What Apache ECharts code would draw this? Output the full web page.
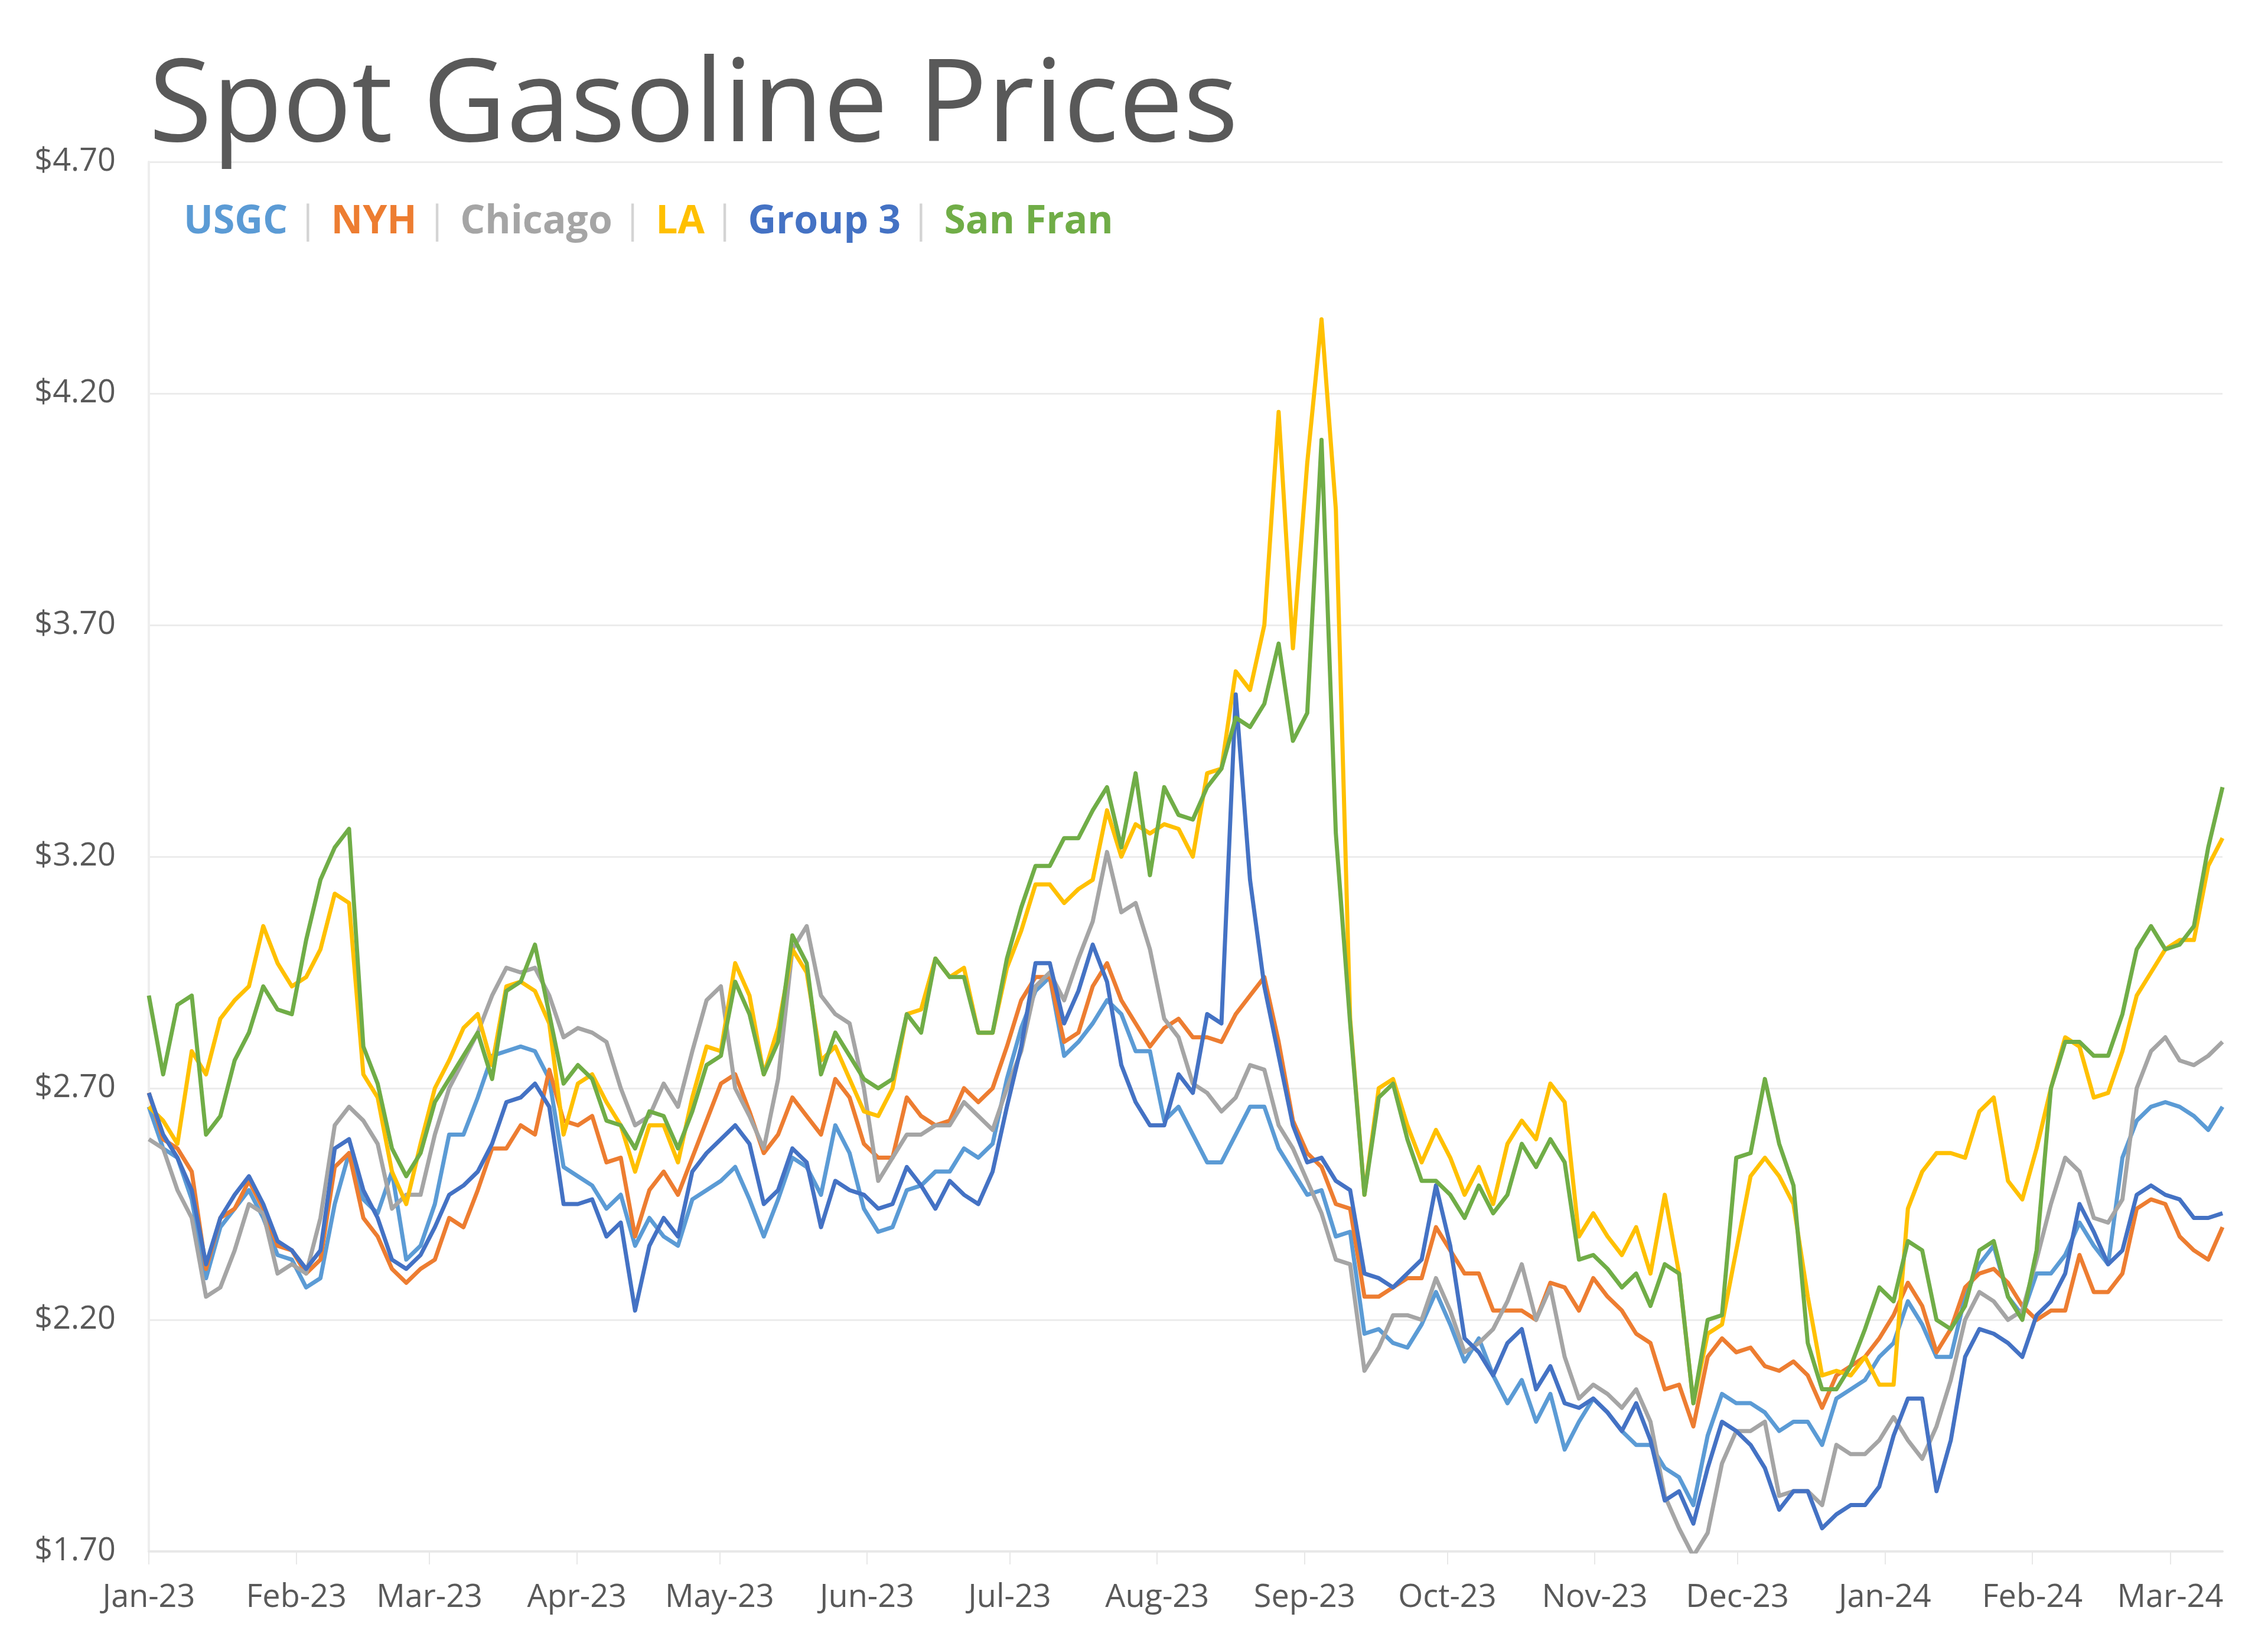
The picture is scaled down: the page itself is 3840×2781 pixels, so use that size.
<!DOCTYPE html>
<html>
<head>
<meta charset="utf-8">
<script src="https://cdn.jsdelivr.net/npm/echarts@6/dist/echarts.min.js"></script>
<style>
  html, body { margin: 0; padding: 0; background: #ffffff; }
  #chart { width: 3840px; height: 2781px; }
</style>
</head>
<body>
<div id="chart"></div>
<script>
const seriesNames = ['USGC', 'NYH', 'Chicago', 'LA', 'Group 3', 'San Fran'];

const usgc = [2.66,2.57,2.55,2.46,2.29,2.40,2.44,2.48,2.42,2.34,2.33,2.27,2.29,2.45,2.56,2.46,2.43,2.52,2.33,2.36,2.45,2.60,2.60,2.68,2.77,2.78,2.79,2.78,2.72,2.53,2.51,2.49,2.44,
  2.47,2.36,2.42,2.38,2.36,2.46,2.48,2.50,2.53,2.46,2.38,2.46,2.55,2.53,2.47,2.62,2.56,2.44,2.39,2.40,2.48,2.49,2.52,2.52,2.57,
  2.55,2.58,2.72,2.83,2.91,2.94,2.77,2.80,2.84,2.89,2.86,2.78,2.78,2.63,2.66,2.60,2.54,2.54,2.60,2.66,2.66,2.57,2.52,2.47,2.48,2.38,2.39,2.17,2.18,2.15,2.14,2.19,2.26,2.19,
  2.11,2.16,2.08,2.02,2.07,1.98,2.04,1.92,1.98,2.03,2.00,1.96,1.93,1.93,1.88,1.86,1.80,1.95,2.04,2.02,2.02,2.00,1.96,1.98,1.98,1.93,2.03,2.05,2.07,2.12,2.15,2.24,2.19,
  2.12,2.12,2.25,2.32,2.36,2.25,2.21,2.30,2.30,2.34,2.41,2.36,2.32,2.55,2.63,2.66,2.67,2.66,2.64,2.61,2.66];

const nyh = [2.69,2.59,2.57,2.52,2.31,2.42,2.44,2.50,2.44,2.36,2.35,2.30,2.33,2.53,2.56,2.42,2.38,2.31,2.28,2.31,2.33,2.42,2.40,2.48,2.57,2.57,2.62,2.60,2.74,2.63,2.62,2.64,2.54,
  2.55,2.38,2.48,2.52,2.47,2.55,2.63,2.71,2.73,2.65,2.56,2.60,2.68,2.64,2.60,2.72,2.68,2.58,2.55,2.55,2.68,2.64,2.62,2.63,2.70,
  2.67,2.70,2.79,2.89,2.94,2.94,2.80,2.82,2.92,2.97,2.89,2.84,2.79,2.83,2.85,2.81,2.81,2.80,2.86,2.90,2.94,2.80,2.63,2.56,2.53,2.45,2.44,2.25,2.25,2.27,2.29,2.29,2.40,2.35,
  2.30,2.30,2.22,2.22,2.22,2.20,2.28,2.27,2.22,2.29,2.25,2.22,2.17,2.15,2.05,2.06,1.97,2.12,2.16,2.13,2.14,2.10,2.09,2.11,2.08,2.01,2.08,2.10,2.12,2.16,2.21,2.28,2.23,
  2.13,2.18,2.27,2.30,2.31,2.28,2.23,2.20,2.22,2.22,2.34,2.26,2.26,2.30,2.44,2.46,2.45,2.38,2.35,2.33,2.40];

const chicago = [2.59,2.57,2.48,2.42,2.25,2.27,2.35,2.45,2.43,2.30,2.32,2.30,2.42,2.62,2.66,2.63,2.58,2.44,2.47,2.47,2.60,2.70,2.76,2.82,2.90,2.96,2.95,2.96,2.90,2.81,2.83,2.82,2.80,
  2.70,2.62,2.64,2.71,2.66,2.78,2.89,2.92,2.70,2.64,2.57,2.72,3.00,3.05,2.90,2.86,2.84,2.70,2.50,2.55,2.60,2.60,2.62,2.62,2.67,
  2.64,2.61,2.70,2.78,2.92,2.95,2.89,2.98,3.06,3.21,3.08,3.10,3.00,2.85,2.81,2.71,2.69,2.65,2.68,2.75,2.74,2.62,2.57,2.50,2.43,2.33,2.32,2.09,2.14,2.21,2.21,2.20,2.29,2.22,
  2.13,2.15,2.18,2.24,2.32,2.20,2.27,2.12,2.03,2.06,2.04,2.01,2.05,1.98,1.82,1.75,1.69,1.74,1.89,1.96,1.96,1.98,1.82,1.83,1.83,1.80,1.93,1.91,1.91,1.94,1.99,1.94,1.90,
  1.97,2.07,2.20,2.26,2.24,2.20,2.22,2.33,2.45,2.55,2.52,2.42,2.41,2.46,2.70,2.78,2.81,2.76,2.75,2.77,2.80];

const la = [2.66,2.63,2.58,2.78,2.73,2.85,2.89,2.92,3.05,2.97,2.92,2.94,3.00,3.12,3.10,2.73,2.68,2.52,2.45,2.58,2.70,2.76,2.83,2.86,2.75,2.92,2.93,2.91,2.84,2.60,2.71,2.73,2.67,
  2.62,2.52,2.62,2.62,2.54,2.68,2.79,2.78,2.97,2.90,2.73,2.83,3.00,2.95,2.76,2.79,2.72,2.65,2.64,2.70,2.86,2.87,2.98,2.94,2.96,
  2.82,2.82,2.96,3.04,3.14,3.14,3.10,3.13,3.15,3.30,3.20,3.27,3.25,3.27,3.26,3.20,3.38,3.39,3.60,3.56,3.70,4.16,3.65,4.05,4.36,3.95,2.85,2.47,2.70,2.72,2.62,2.54,2.61,2.55,
  2.47,2.53,2.45,2.58,2.63,2.59,2.71,2.67,2.38,2.43,2.38,2.34,2.40,2.30,2.47,2.30,2.02,2.17,2.19,2.35,2.51,2.55,2.51,2.45,2.25,2.08,2.09,2.08,2.12,2.06,2.06,2.44,2.52,
  2.56,2.56,2.55,2.65,2.68,2.50,2.46,2.57,2.70,2.81,2.79,2.68,2.69,2.78,2.90,2.95,3.00,3.02,3.02,3.18,3.24];

const group3 = [2.69,2.60,2.55,2.48,2.32,2.42,2.47,2.51,2.45,2.37,2.35,2.31,2.35,2.57,2.59,2.48,2.42,2.33,2.31,2.34,2.40,2.47,2.49,2.52,2.58,2.67,2.68,2.71,2.66,2.45,2.45,2.46,2.38,
  2.41,2.22,2.36,2.42,2.38,2.52,2.56,2.59,2.62,2.58,2.45,2.48,2.57,2.54,2.40,2.50,2.48,2.47,2.44,2.45,2.53,2.49,2.44,2.50,2.47,
  2.45,2.52,2.66,2.79,2.97,2.97,2.84,2.91,3.01,2.93,2.75,2.67,2.62,2.62,2.73,2.69,2.86,2.84,3.55,3.15,2.92,2.77,2.62,2.54,2.55,2.50,2.48,2.30,2.29,2.27,2.30,2.33,2.49,2.36,
  2.16,2.13,2.08,2.15,2.18,2.05,2.10,2.02,2.01,2.03,2.00,1.96,2.02,1.94,1.81,1.83,1.76,1.88,1.98,1.96,1.93,1.88,1.79,1.83,1.83,1.75,1.78,1.80,1.80,1.84,1.95,2.03,2.03,
  1.83,1.94,2.12,2.18,2.17,2.15,2.12,2.21,2.24,2.30,2.45,2.39,2.32,2.35,2.47,2.49,2.47,2.46,2.42,2.42,2.43];

const sanFran = [2.90,2.73,2.88,2.90,2.60,2.64,2.76,2.82,2.92,2.87,2.86,3.02,3.15,3.22,3.26,2.79,2.71,2.57,2.51,2.56,2.67,2.72,2.77,2.82,2.72,2.91,2.93,3.01,2.86,2.71,2.75,2.72,2.63,
  2.62,2.57,2.65,2.64,2.57,2.65,2.75,2.77,2.93,2.86,2.73,2.80,3.03,2.97,2.73,2.82,2.77,2.72,2.70,2.72,2.86,2.82,2.98,2.94,2.94,
  2.82,2.82,2.98,3.09,3.18,3.18,3.24,3.24,3.30,3.35,3.22,3.38,3.16,3.35,3.29,3.28,3.35,3.39,3.50,3.48,3.53,3.66,3.45,3.51,4.10,3.25,2.84,2.47,2.68,2.71,2.59,2.50,2.50,2.47,
  2.42,2.49,2.43,2.47,2.58,2.53,2.59,2.54,2.33,2.34,2.31,2.27,2.30,2.23,2.32,2.30,2.02,2.20,2.21,2.55,2.56,2.72,2.58,2.49,2.15,2.05,2.05,2.10,2.18,2.27,2.24,2.37,2.35,
  2.20,2.18,2.23,2.35,2.37,2.25,2.20,2.35,2.70,2.80,2.80,2.77,2.77,2.86,3.00,3.05,3.00,3.01,3.05,3.22,3.35];

// sampling dates: evenly spaced from 2023-01-01 to 2024-03-12
const firstDate = '2023-01-01';
const lastDate = '2024-03-12';

// tick labels
const monthTicks = ['2023-01-01','2023-02-01','2023-03-01','2023-04-01','2023-05-01','2023-06-01','2023-07-01',
  '2023-08-01','2023-09-01','2023-10-01','2023-11-01','2023-12-01','2024-01-01','2024-02-01','2024-03-01'];
const monthLabels = ['Jan-23','Feb-23','Mar-23','Apr-23','May-23','Jun-23','Jul-23','Aug-23','Sep-23','Oct-23',
  'Nov-23','Dec-23','Jan-24','Feb-24','Mar-24'];
const yTicks = [1.70, 2.20, 2.70, 3.20, 3.70, 4.20, 4.70];
const yTickLabels = ['$1.70','$2.20','$2.70','$3.20','$3.70','$4.20','$4.70'];

// ---------------- CHART ----------------
const colors = ['#5B9BD5', '#ED7D31', '#A5A5A5', '#FFC000', '#4472C4', '#70AD47'];
const FONT = "'Open Sans', 'Noto Sans', 'DejaVu Sans', sans-serif";
const allSeries = [usgc, nyh, chicago, la, group3, sanFran];

const DAY = 86400000;
const t0 = Date.parse(firstDate);
const t1 = Date.parse(lastDate);
const spanDays = (t1 - t0) / DAY;
const n = usgc.length;
// x is measured in days since firstDate (value axis)
const dayX = usgc.map((_, i) => spanDays * i / (n - 1));
const tickDays = monthTicks.map(s => (Date.parse(s) - t0) / DAY);

const chart = echarts.init(document.getElementById('chart'), null, { renderer: 'canvas' });

const option = {
  animation: false,
  backgroundColor: '#ffffff',
  title: {
    text: 'Spot Gasoline Prices',
    left: 252,
    top: 86,
    padding: 0,
    textStyle: { fontFamily: FONT, fontSize: 195, fontWeight: 'normal', color: '#595959' }
  },
  legend: {
    left: 306,
    top: 343,
    padding: 0,
    icon: 'rect',
    itemWidth: 0,
    itemHeight: 0,
    itemGap: 0,
    selectedMode: false,
    data: seriesNames.map((name, i) => ({ name, textStyle: { color: colors[i] } })),
    formatter: name => name === seriesNames[seriesNames.length - 1] ? name : name + '{s| | }',
    textStyle: {
      fontFamily: FONT, fontSize: 66, fontWeight: 'bold',
      rich: { s: { fontFamily: FONT, fontSize: 64, fontWeight: 'normal', color: '#d4d4d4' } }
    }
  },
  grid: { left: 252, right: 77, top: 274, bottom: 155, containLabel: false },
  xAxis: {
    type: 'value',
    min: 0,
    max: spanDays,
    axisLine: { show: true, lineStyle: { color: '#e8e8e8', width: 4 } },
    axisTick: { show: true, customValues: tickDays, length: 22, lineStyle: { color: '#e8e8e8', width: 2 } },
    axisLabel: {
      customValues: tickDays,
      formatter: v => {
        const k = tickDays.findIndex(t => Math.abs(t - v) < 0.5);
        return k >= 0 ? monthLabels[k] : '';
      },
      fontFamily: FONT, fontSize: 54, color: '#595959', margin: 52,
      hideOverlap: false, showMinLabel: true, showMaxLabel: true
    },
    splitLine: { show: false }
  },
  yAxis: {
    type: 'value',
    min: 1.7,
    max: 4.7,
    interval: 0.1,
    axisLine: { show: true, lineStyle: { color: '#eeeeee', width: 4 } },
    axisTick: { show: false },
    axisLabel: {
      formatter: v => {
        const k = yTicks.findIndex(t => Math.abs(t - v) < 1e-6);
        return k >= 0 ? yTickLabels[k] : '';
      },
      fontFamily: FONT, fontSize: 54, color: '#595959', margin: 56
    },
    splitLine: {
      show: true,
      lineStyle: { color: ['#ececec', 'rgba(0,0,0,0)', 'rgba(0,0,0,0)', 'rgba(0,0,0,0)', 'rgba(0,0,0,0)'], width: 3 }
    }
  },
  series: seriesNames.map((name, i) => ({
    name,
    type: 'line',
    showSymbol: false,
    symbol: 'none',
    color: colors[i],
    lineStyle: { color: colors[i], width: 7, join: 'round' },
    clip: true,
    data: dayX.map((d, j) => [d, allSeries[i][j]])
  }))
};

chart.setOption(option);
</script>
</body>
</html>
